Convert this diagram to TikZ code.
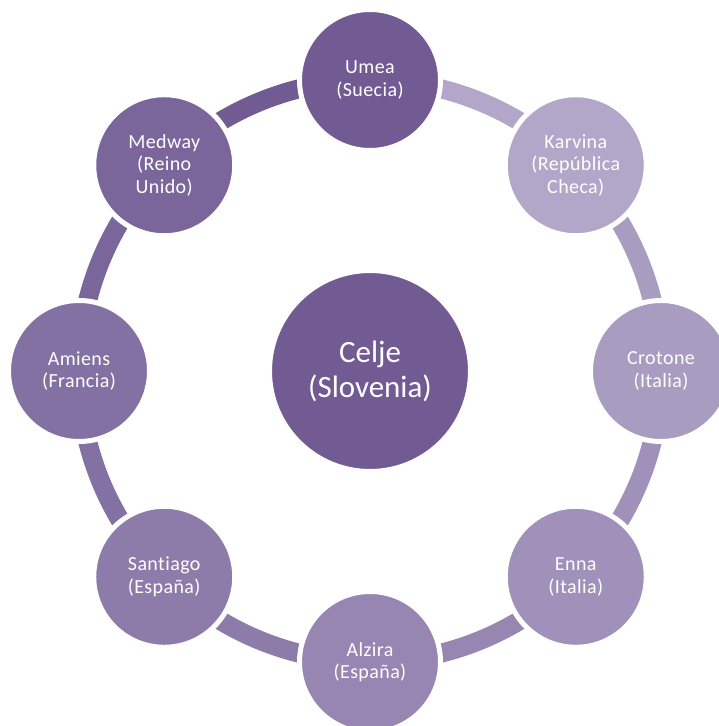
\documentclass[tikz,border=0pt]{standalone}
\usepackage{fontspec}
\setmainfont{Carlito}
\usetikzlibrary{backgrounds,calc}
\definecolor{cUmea}{RGB}{114,91,147}
\definecolor{cKarvina}{RGB}{178,167,201}
\definecolor{cCrotone}{RGB}{169,156,193}
\definecolor{cEnna}{RGB}{160,145,186}
\definecolor{cAlzira}{RGB}{151,134,178}
\definecolor{cSantiago}{RGB}{141,124,170}
\definecolor{cAmiens}{RGB}{132,113,163}
\definecolor{cMedway}{RGB}{123,102,155}
\definecolor{cCenter}{RGB}{114,91,147}
\begin{document}
\begin{tikzpicture}[x=1pt,y=-1pt,
  city/.style={circle, draw=white, line width=5pt, inner sep=0pt,
    minimum size=141pt, text=white, align=center,
    font=\fontsize{20}{22.5}\selectfont\addfontfeatures{LetterSpace=2,Ligatures=NoCommon}},
  hub/.style={circle, draw=white, line width=5pt, inner sep=0pt,
    minimum size=201pt, text=white, align=center,
    font=\fontsize{31}{35}\selectfont},
  ring/.style={line width=19pt}]
\useasboundingbox (0,0) rectangle (719,726);
\clip (0,0) rectangle (719,726);
\coordinate (c) at (370,371);
\node[hub, fill=cCenter] (celje) at (c) {Celje\\(Slovenia)};
\node[city, fill=cUmea] (umea) at ($(c)+(-90:291)$) {Umea\\(Suecia)};
\node[city, fill=cKarvina] (karvina) at ($(c)+(-45:291)$) {Karvina\\(República\\Checa)};
\node[city, fill=cCrotone] (crotone) at ($(c)+(0:291)$) {Crotone\\(Italia)};
\node[city, fill=cEnna] (enna) at ($(c)+(45:291)$) {Enna\\(Italia)};
\node[city, fill=cAlzira] (alzira) at ($(c)+(90:291)$) {Alzira\\(España)};
\node[city, fill=cSantiago] (santiago) at ($(c)+(135:291)$) {Santiago\\(España)};
\node[city, fill=cAmiens] (amiens) at ($(c)+(180:291)$) {Amiens\\(Francia)};
\node[city, fill=cMedway] (medway) at ($(c)+(225:291)$) {Medway\\(Reino\\Unido)};
\begin{scope}[on background layer]
\draw[ring, cKarvina] (umea.center) arc[start angle=-90, delta angle=45, radius=291];
\draw[ring, cCrotone] (karvina.center) arc[start angle=-45, delta angle=45, radius=291];
\draw[ring, cEnna] (crotone.center) arc[start angle=0, delta angle=45, radius=291];
\draw[ring, cAlzira] (enna.center) arc[start angle=45, delta angle=45, radius=291];
\draw[ring, cSantiago] (alzira.center) arc[start angle=90, delta angle=45, radius=291];
\draw[ring, cAmiens] (santiago.center) arc[start angle=135, delta angle=45, radius=291];
\draw[ring, cMedway] (amiens.center) arc[start angle=180, delta angle=45, radius=291];
\draw[ring, cUmea] (medway.center) arc[start angle=225, delta angle=45, radius=291];
\end{scope}
\end{tikzpicture}
\end{document}
